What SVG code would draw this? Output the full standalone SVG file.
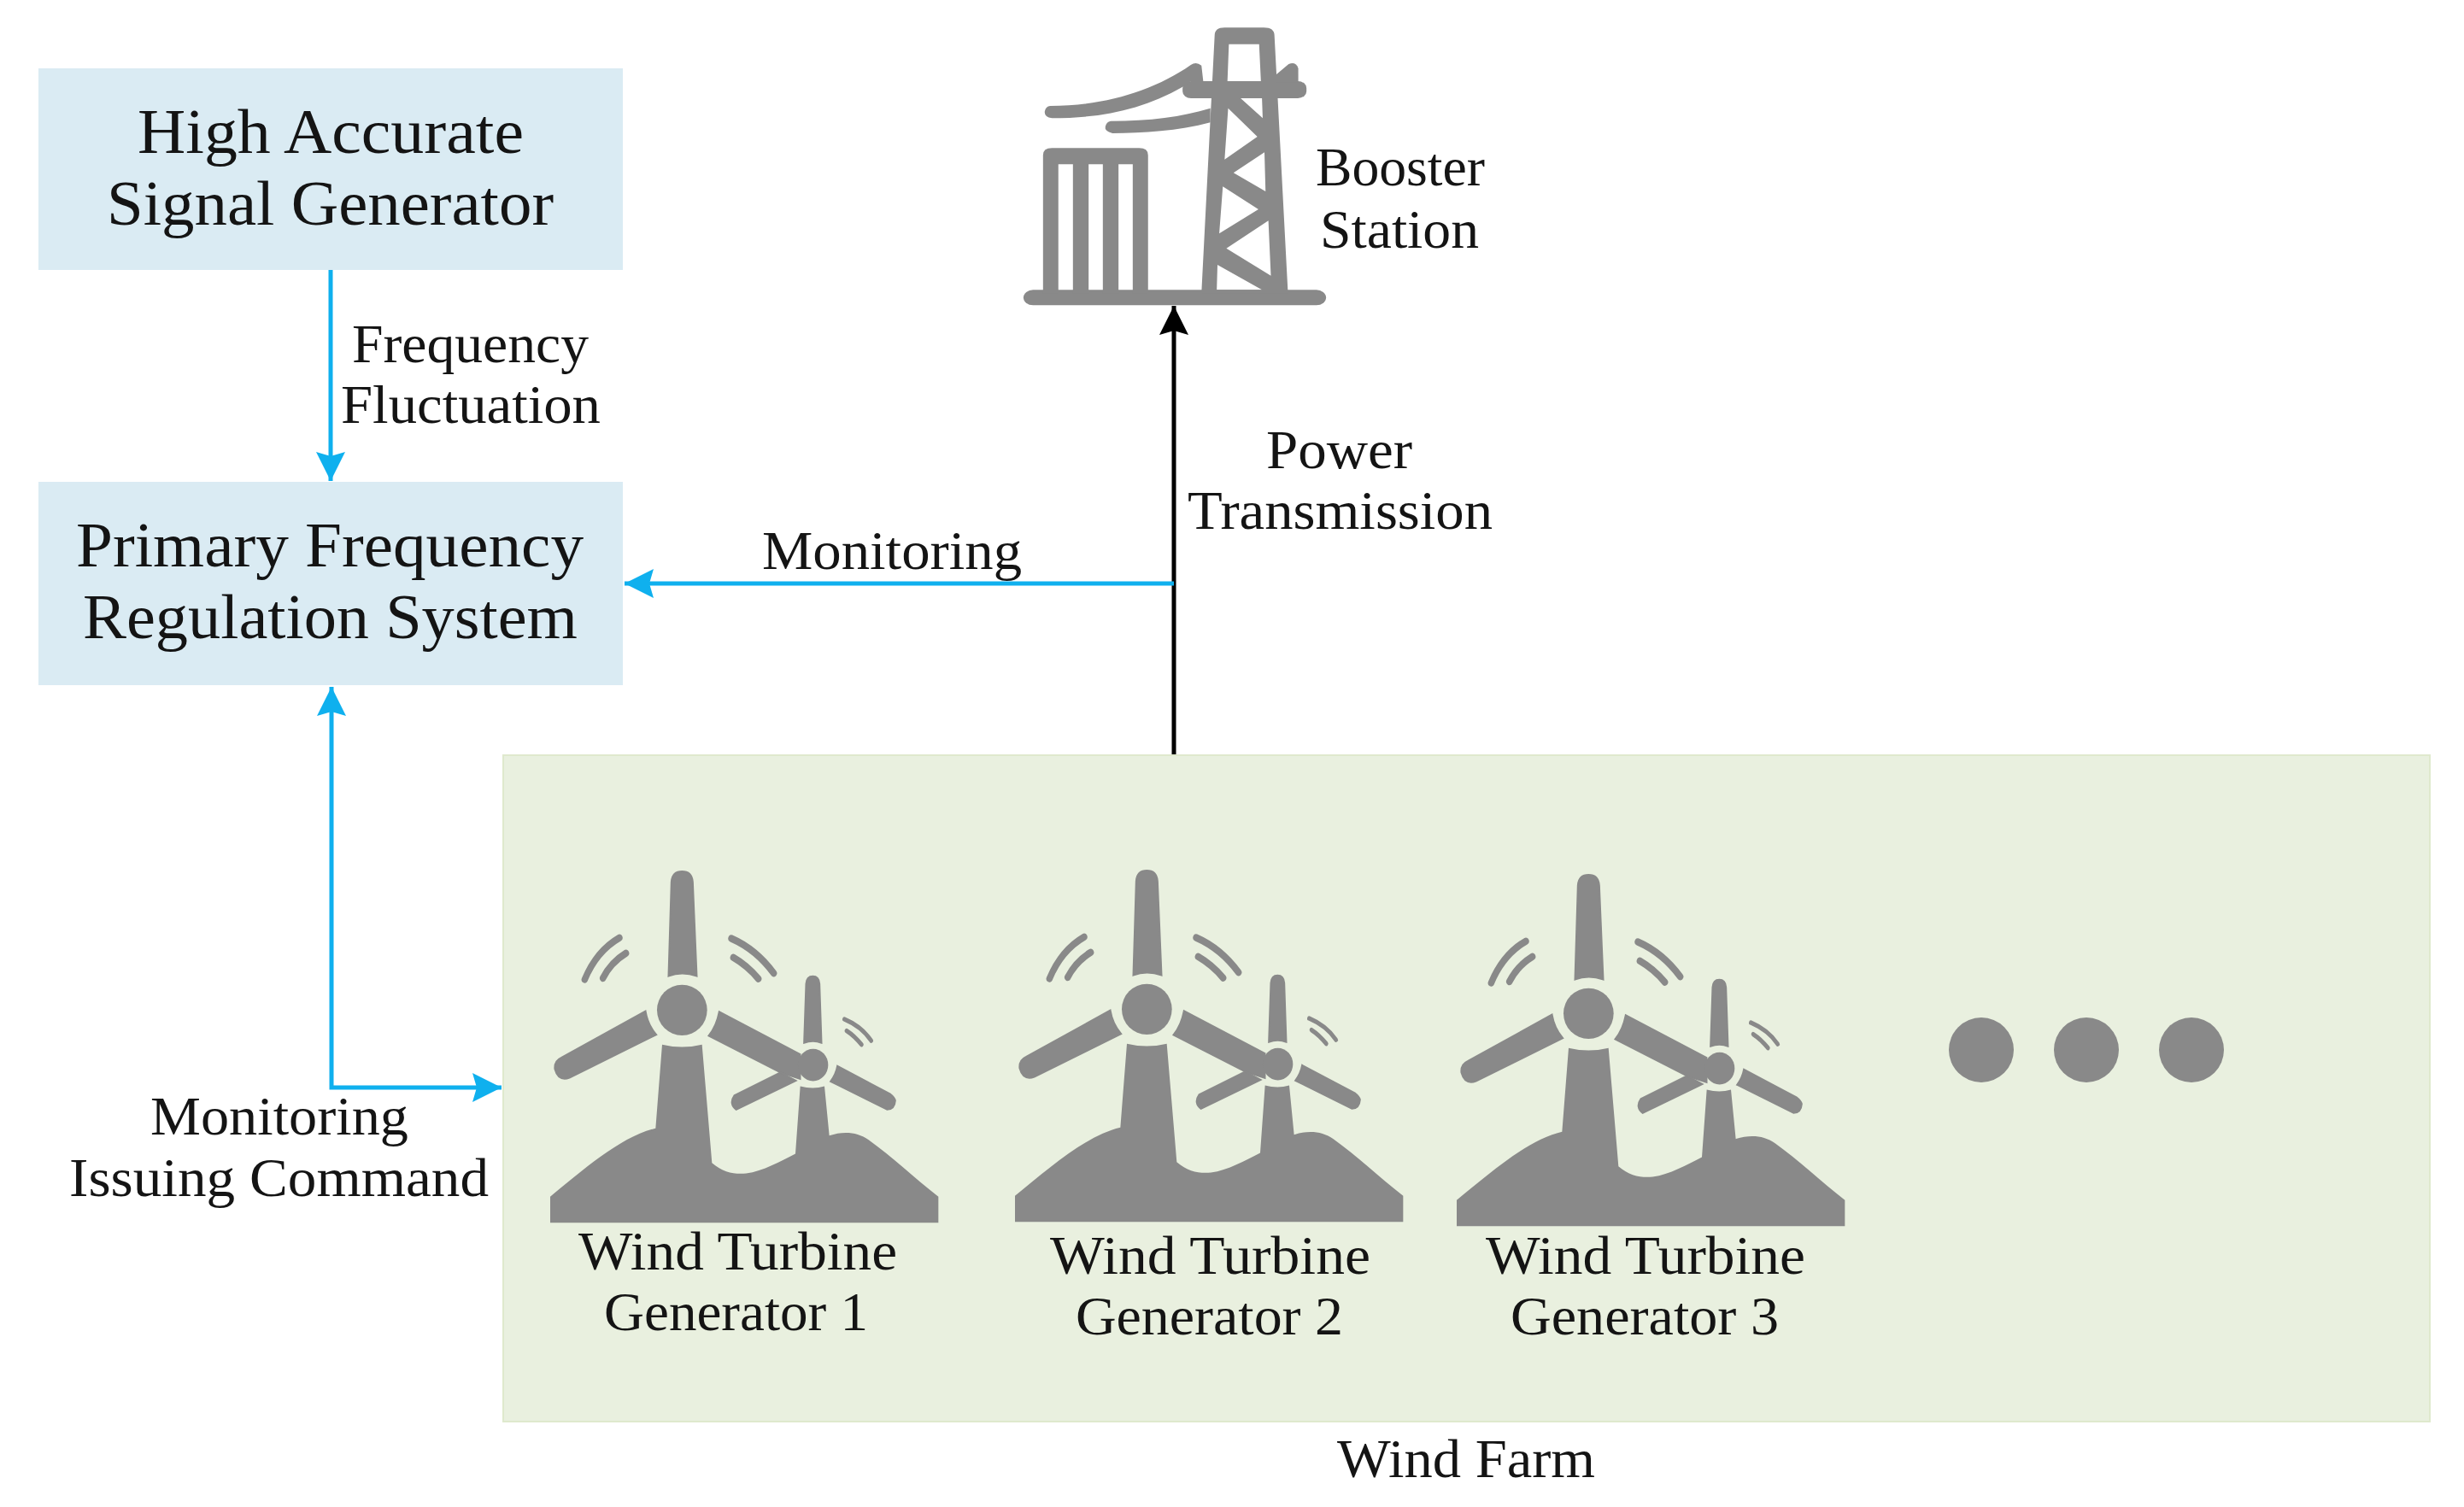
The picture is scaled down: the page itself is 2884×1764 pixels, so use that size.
<svg xmlns="http://www.w3.org/2000/svg" xmlns:xlink="http://www.w3.org/1999/xlink" width="2884" height="1764" viewBox="0 0 2884 1764">
<style>
text{font-family:"Liberation Serif","Times New Roman",serif;fill:#141414;text-anchor:start}
.b{font-size:74px}
.m{font-size:63px}
.gr{fill:#898989}
.bd{stroke:#898989;stroke-width:5}
.box{fill:#daebf3}
.bl{fill:none;stroke:#0fb0ee;stroke-width:5}
.arc{fill:none;stroke:#898989;stroke-linecap:round}
</style>
<defs>
<marker id="ab" markerUnits="userSpaceOnUse" markerWidth="36" markerHeight="36" refX="34" refY="18" orient="auto-start-reverse" viewBox="0 0 36 36"><path d="M34 18L0 1L5 18L0 35Z" fill="#0fb0ee"/></marker>
<marker id="ak" markerUnits="userSpaceOnUse" markerWidth="36" markerHeight="36" refX="34" refY="18" orient="auto" viewBox="0 0 36 36"><path d="M34 18L0 1L5 18L0 35Z" fill="#000"/></marker>
<g id="turbine" transform="translate(620,990) scale(0.33333,0.38462)">
<path class="gr" d="M72 1147V1068C190 985 320 885 442 860L465 605Q535 620 605 605L640 965C680 995 720 1000 760 997C820 990 880 960 933 937L950 732Q995 742 1035 732L1052 882C1100 868 1150 870 1190 895C1270 945 1350 1010 1435 1068V1147Z"/>
<path class="gr bd" d="M497 110Q500 78 535 78Q570 78 573 110L587 397Q535 380 487 397Z"/>
<path class="gr bd" d="M407 503Q415 545 445 575L140 706Q100 718 88 680Q85 655 110 645Z"/>
<path class="gr bd" d="M665 505L950 635V710L880 690L628 578Q655 550 665 505Z"/>
<path class="gr bd" d="M880 690L718 760Q698 785 725 803L935 715Z"/>
<path class="gr bd" d="M970 420Q972 397 994 397Q1016 397 1018 420L1025 600Q995 590 963 600Z"/>
<path class="gr bd" d="M1080 670Q1075 695 1056 717L1255 803Q1282 802 1284 775Q1280 765 1265 755Z"/>
<ellipse class="gr" cx="535" cy="500" rx="88" ry="77"/>
<ellipse class="gr" cx="995" cy="667" rx="53" ry="49"/>
<path class="arc" stroke-width="22" d="M193 407Q235 320 315 280M257 403Q285 355 338 327M708 282Q795 315 857 388M715 340Q765 365 803 405"/>
<path class="arc" stroke-width="14" d="M1105 528Q1165 550 1199 593M1113 563Q1140 578 1165 605"/>
</g>
</defs>

<g id="wind-farm">
<rect x="589" y="884" width="2255" height="780" fill="#e9f0df" stroke="#dfe9cd" stroke-width="2"/>
<text class="m" x="1565" y="1729" textLength="302" lengthAdjust="spacingAndGlyphs">Wind Farm</text>
</g>

<g id="connectors">
<path d="M1374 883V358" fill="none" stroke="#000" stroke-width="5" marker-end="url(#ak)"/>
<path class="bl" d="M387 316V563" marker-end="url(#ab)"/>
<path class="bl" d="M1374 683H731" marker-end="url(#ab)"/>
<path class="bl" d="M388 804V1273H587" marker-start="url(#ab)" marker-end="url(#ab)"/>
</g>

<g id="signal-generator">
<rect class="box" x="45" y="80" width="684" height="236"/>
<text class="b" x="161" y="179" textLength="452" lengthAdjust="spacingAndGlyphs">High Accurate</text>
<text class="b" x="125" y="263" textLength="523" lengthAdjust="spacingAndGlyphs">Signal Generator</text>
</g>

<g id="regulation-system">
<rect class="box" x="45" y="564" width="684" height="238"/>
<text class="b" x="89" y="663" textLength="594" lengthAdjust="spacingAndGlyphs">Primary Frequency</text>
<text class="b" x="97" y="747" textLength="579" lengthAdjust="spacingAndGlyphs">Regulation System</text>
</g>

<g id="booster-station">
<g transform="translate(1150,0) scale(0.41667,0.33333)">
<rect class="gr" x="115" y="1018" width="850" height="54" rx="27" ry="27"/>
<path class="gr" d="M170 1030V545Q170 520 195 520H440Q465 520 465 545V1030H422V577H382V1030H338V577H298V1030H254V577H213V1030Z"/>
<path class="gr" fill-rule="evenodd" d="M652 125Q652 97 680 97H790Q820 97 820 125L858 1030H615ZM692 155H777L782 285H688ZM725 345H785L787 415ZM690 380L772 480L680 560ZM792 535L795 672L705 607ZM675 655L775 735L665 820ZM803 775L810 968L685 872ZM660 930L785 1018H658Z"/>
<rect class="gr" x="562" y="285" width="348" height="60" rx="24" ry="24"/>
<path class="gr" d="M190 372C340 372 480 320 585 228Q600 215 615 230L620 285H585L562 305C450 385 330 415 195 415Q172 410 175 390Q178 373 190 372Z"/>
<path class="gr" d="M360 425C470 425 560 410 640 380V430C550 460 450 468 365 468Q342 460 345 445Q348 427 360 425Z"/>
<path class="gr" d="M825 262L860 225Q880 215 887 240V290H825Z"/>
</g>
<text class="m" x="1540" y="217" textLength="198" lengthAdjust="spacingAndGlyphs">Booster</text>
<text class="m" x="1545" y="290" textLength="186" lengthAdjust="spacingAndGlyphs">Station</text>
</g>

<g id="wind-turbine-1">
<use xlink:href="#turbine" href="#turbine"/>
<text class="m" x="677" y="1486" textLength="373" lengthAdjust="spacingAndGlyphs">Wind Turbine</text>
<text class="m" x="707" y="1557" textLength="309" lengthAdjust="spacingAndGlyphs">Generator 1</text>
</g>
<g id="wind-turbine-2">
<use xlink:href="#turbine" href="#turbine" x="544" y="-1"/>
<text class="m" x="1229" y="1491" textLength="375" lengthAdjust="spacingAndGlyphs">Wind Turbine</text>
<text class="m" x="1259" y="1562" textLength="313" lengthAdjust="spacingAndGlyphs">Generator 2</text>
</g>
<g id="wind-turbine-3">
<use xlink:href="#turbine" href="#turbine" x="1061" y="4"/>
<text class="m" x="1739" y="1491" textLength="374" lengthAdjust="spacingAndGlyphs">Wind Turbine</text>
<text class="m" x="1768" y="1562" textLength="314" lengthAdjust="spacingAndGlyphs">Generator 3</text>
</g>
<g id="more-dots" class="gr">
<circle cx="2319" cy="1229" r="38"/>
<circle cx="2442" cy="1229" r="38"/>
<circle cx="2565" cy="1229" r="38"/>
</g>

<g id="labels">
<text class="m" x="412" y="424" textLength="277" lengthAdjust="spacingAndGlyphs">Frequency</text>
<text class="m" x="399" y="495" textLength="304" lengthAdjust="spacingAndGlyphs">Fluctuation</text>
<text class="m" x="892" y="666" textLength="304" lengthAdjust="spacingAndGlyphs">Monitoring</text>
<text class="m" x="1482" y="548" textLength="171" lengthAdjust="spacingAndGlyphs">Power</text>
<text class="m" x="1390" y="619" textLength="357" lengthAdjust="spacingAndGlyphs">Transmission</text>
<text class="m" x="176" y="1328" textLength="302" lengthAdjust="spacingAndGlyphs">Monitoring</text>
<text class="m" x="81" y="1400" textLength="491" lengthAdjust="spacingAndGlyphs">Issuing Command</text>
</g>
</svg>
